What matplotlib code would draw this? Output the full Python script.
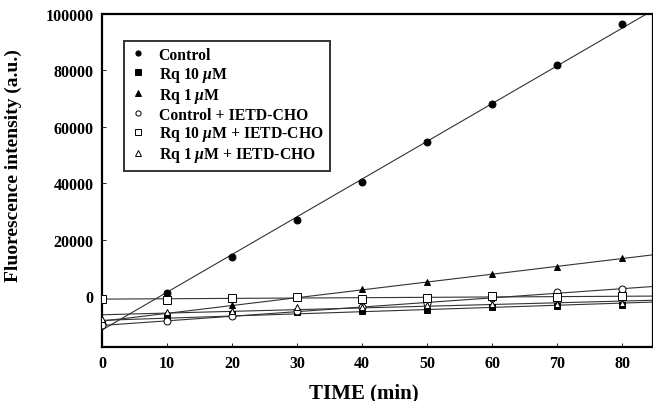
import matplotlib
matplotlib.use('Agg')
import numpy as np
import matplotlib.pyplot as plt

plt.rcParams['font.family'] = ['Liberation Serif', 'DejaVu Serif']
plt.rcParams['font.weight'] = 'bold'
plt.rcParams['mathtext.fontset'] = 'custom'
plt.rcParams['mathtext.it'] = 'Liberation Serif:italic:bold'

# time points (min)
time = [0, 10, 20, 30, 40, 50, 60, 70, 80]

# fluorescence readings (a.u.)
control = [-9700, 1300, 14000, 27000, 40500, 54500, 68200, 81800, 96500]
rq10 = [-9800, -7500, -6300, -5500, -5200, -4700, -3750, -3400, -2900]
rq1 = [-9000, -6000, -3200, -600, 2700, 5100, 7800, 10400, 13400]
control_ietd = [-10300, -8800, -7000, -5300, -3800, -2300, -700, 1500, 2500]
rq10_ietd = [-800, -1400, -500, -200, -800, -460, 0, -200, 0]
rq1_ietd = [-7900, -5500, -5200, -3750, -3750, -3200, -2800, -2600, -2300]

labels = ['Control', r'Rq 10 $\mu$M', r'Rq 1 $\mu$M', 'Control + IETD-CHO',
          r'Rq 10 $\mu$M + IETD-CHO', r'Rq 1 $\mu$M + IETD-CHO']
series = [control, rq10, rq1, control_ietd, rq10_ietd, rq1_ietd]
markers = ['o', 's', '^', 'o', 's', '^']
filled = [True, True, True, False, False, False]
msizes = [5, 5, 5, 5, 5.5, 5]

fig = plt.figure(figsize=(6.53, 4.02), dpi=100)
ax = fig.add_axes([0.1562, 0.134, 0.8438, 0.8287])

xfit = np.array([0, 85])
handles = []
for vals, lab, mk, fl, ms in zip(series, labels, markers, filled, msizes):
    # regression line through the points
    k, b = np.polyfit(time, vals, 1)
    ax.plot(xfit, k * xfit + b, color='#333333', linewidth=0.8, zorder=2)
    h, = ax.plot(time, vals, linestyle='none', marker=mk, markersize=ms,
                 markerfacecolor='black' if fl else 'white',
                 markeredgecolor='black', markeredgewidth=0.7, zorder=3,
                 label=lab)
    handles.append(h)

ax.set_xlim(0, 84.7)
ax.set_ylim(-18000, 100000)
ax.set_xticks(range(0, 81, 10))
ax.set_yticks(range(0, 100001, 20000))
ax.tick_params(direction='in', length=3, width=0.6, labelsize=11.5, pad=6)
for lab in ax.get_xticklabels() + ax.get_yticklabels():
    lab.set_fontweight('bold')
for s in ax.spines.values():
    s.set_linewidth(1.6)

ax.set_xlabel('TIME (min)', fontsize=15, fontweight='bold')
ax.set_ylabel('Fluorescence intensity (a.u.)', fontsize=14, fontweight='bold')
ax.xaxis.set_label_coords(0.476, -0.105)
ax.yaxis.set_label_coords(-0.145, 0.547)

leg = ax.legend(handles=handles, loc='upper left', bbox_to_anchor=(0.04, 0.92),
                prop={'family': 'Liberation Serif', 'weight': 'bold', 'size': 11.3},
                frameon=True, fancybox=False, edgecolor='black', markerscale=0.75,
                handlelength=1.0, handletextpad=0.8, labelspacing=0.12,
                borderpad=0.4, borderaxespad=0)
leg.get_frame().set_linewidth(1.4)

plt.savefig('out.png', dpi=100)
